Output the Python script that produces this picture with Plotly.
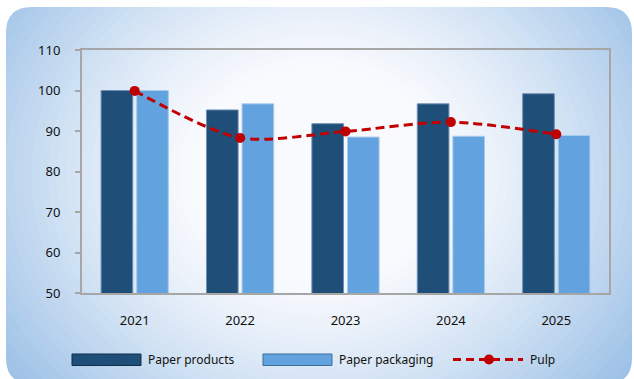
import plotly.graph_objects as go

years = ["2021", "2022", "2023", "2024", "2025"]
paper_products = [100.0, 95.2, 91.8, 96.7, 99.2]
paper_packaging = [100.0, 96.7, 88.5, 88.7, 88.9]
pulp = [99.9, 88.3, 89.9, 92.2, 89.2]
y_ticks = [50, 60, 70, 80, 90, 100, 110]

W, H = 634, 379
L, R, T, B = 82, 609, 50, 293  # plot area in pixels


def px(x):
    return (x - L) / (R - L)


def py(y):
    return (B - y) / (B - T)


def rrect_pts(x0, y0, x1, y1, r, reverse=False):
    segs = [
        ("M", [(x0 + r, y0)]),
        ("L", [(x1 - r, y0)]),
        ("Q", [(x1, y0), (x1, y0 + r)]),
        ("L", [(x1, y1 - r)]),
        ("Q", [(x1, y1), (x1 - r, y1)]),
        ("L", [(x0 + r, y1)]),
        ("Q", [(x0, y1), (x0, y1 - r)]),
        ("L", [(x0, y0 + r)]),
        ("Q", [(x0, y0), (x0 + r, y0)]),
    ]
    if not reverse:
        out = []
        for c, pts in segs:
            out.append(c + " ".join(f"{px(a):.5f},{py(b):.5f}" for a, b in pts))
        return " ".join(out) + " Z"
    # counter-clockwise version
    out = [f"M{px(x0 + r):.5f},{py(y0):.5f}",
           f"Q{px(x0):.5f},{py(y0):.5f} {px(x0):.5f},{py(y0 + r):.5f}",
           f"L{px(x0):.5f},{py(y1 - r):.5f}",
           f"Q{px(x0):.5f},{py(y1):.5f} {px(x0 + r):.5f},{py(y1):.5f}",
           f"L{px(x1 - r):.5f},{py(y1):.5f}",
           f"Q{px(x1):.5f},{py(y1):.5f} {px(x1):.5f},{py(y1 - r):.5f}",
           f"L{px(x1):.5f},{py(y0 + r):.5f}",
           f"Q{px(x1):.5f},{py(y0):.5f} {px(x1 - r):.5f},{py(y0):.5f}",
           "Z"]
    return " ".join(out)


def mix(c1, c2, t):
    return "rgb(%d,%d,%d)" % tuple(round(a + (b - a) * t) for a, b in zip(c1, c2))


shapes = []
edge = (158, 194, 231)
center = (248, 250, 253)
cx, cy, rx, ry = 317, 175, 385, 330
N = 60
dmax = 1.35
for i in range(N):
    d = dmax * (1 - i / N)
    t = max(0.0, min(1.0, (d - 0.33) / 0.67)) ** 1.25
    shapes.append(dict(
        type="circle", xref="paper", yref="paper", layer="below",
        x0=px(cx - rx * d), x1=px(cx + rx * d),
        y0=py(cy + ry * d), y1=py(cy - ry * d),
        fillcolor=mix(center, edge, t), line=dict(width=0),
    ))
# white mask outside the rounded panel
bx0, by0, bx1, by1 = 6, 7, 632, 384
mask = (f"M{px(-20):.5f},{py(-20):.5f} L{px(W + 20):.5f},{py(-20):.5f} "
        f"L{px(W + 20):.5f},{py(H + 20):.5f} L{px(-20):.5f},{py(H + 20):.5f} Z "
        + rrect_pts(bx0, by0, bx1, by1, 26, reverse=True))
shapes.append(dict(type="path", xref="paper", yref="paper", layer="below",
                   path=mask, fillcolor="white", line=dict(width=0)))

# custom legend
dark = "#1f4e79"
light = "#62a2de"
red = "#c00000"
ly = 359.5
shapes.append(dict(type="rect", xref="paper", yref="paper",
                   x0=px(72), x1=px(141), y0=py(354), y1=py(365.5),
                   fillcolor=dark, line=dict(color="#0f2f4f", width=1)))
shapes.append(dict(type="rect", xref="paper", yref="paper",
                   x0=px(263), x1=px(332), y0=py(354), y1=py(365.5),
                   fillcolor=light, line=dict(color="#3d6f9f", width=1)))
shapes.append(dict(type="line", xref="paper", yref="paper",
                   x0=px(453), x1=px(523), y0=py(ly), y1=py(ly),
                   line=dict(color=red, width=3, dash="8px,5px")))
shapes.append(dict(type="circle", xref="paper", yref="paper",
                   x0=px(484), x1=px(494), y0=py(ly - 5), y1=py(ly + 5),
                   fillcolor=red, line=dict(color=red, width=0)))

font = dict(family="Noto Sans, DejaVu Sans, sans-serif", size=13, color="#111111")
annotations = []
for xx, txt in [(146, "Paper products"), (337, "Paper packaging"), (528, "Pulp")]:
    annotations.append(dict(x=px(xx), y=py(ly), xref="paper", yref="paper",
                            text=txt, showarrow=False, xanchor="left", yanchor="middle",
                            font=dict(family=font["family"], size=12, color="#111111")))

fig = go.Figure()
fig.add_trace(go.Bar(x=years, y=paper_products, name="Paper products",
                     marker=dict(color=dark, line=dict(color="#6f90b4", width=1))))
fig.add_trace(go.Bar(x=years, y=paper_packaging, name="Paper packaging",
                     marker=dict(color=light, line=dict(color="#a9cbee", width=1))))
fig.add_trace(go.Scatter(x=years, y=pulp, name="Pulp", mode="lines+markers",
                         line=dict(color=red, width=3, dash="9px,5px", shape="spline", smoothing=0.8),
                         marker=dict(color=red, size=10)))

fig.update_layout(
    width=W, height=H,
    margin=dict(l=L, r=W - R, t=T, b=H - B),
    paper_bgcolor="white",
    plot_bgcolor="rgba(0,0,0,0)",
    barmode="group", bargap=0.325, bargroupgap=0.11,
    showlegend=False,
    shapes=shapes, annotations=annotations,
    font=font,
)
fig.update_yaxes(range=[50, 110], tickvals=y_ticks, showgrid=False, zeroline=False,
                 showline=True, mirror=True, linecolor="#a6a6a6", linewidth=2,
                 ticks="outside", ticklen=5, tickcolor="#a6a6a6", tickwidth=2,
                 ticklabelstandoff=12)
fig.update_xaxes(showgrid=False, showline=True, mirror=True, linecolor="#a6a6a6",
                 linewidth=2, ticks="", ticklabelstandoff=14)

fig.write_html("out.html")
